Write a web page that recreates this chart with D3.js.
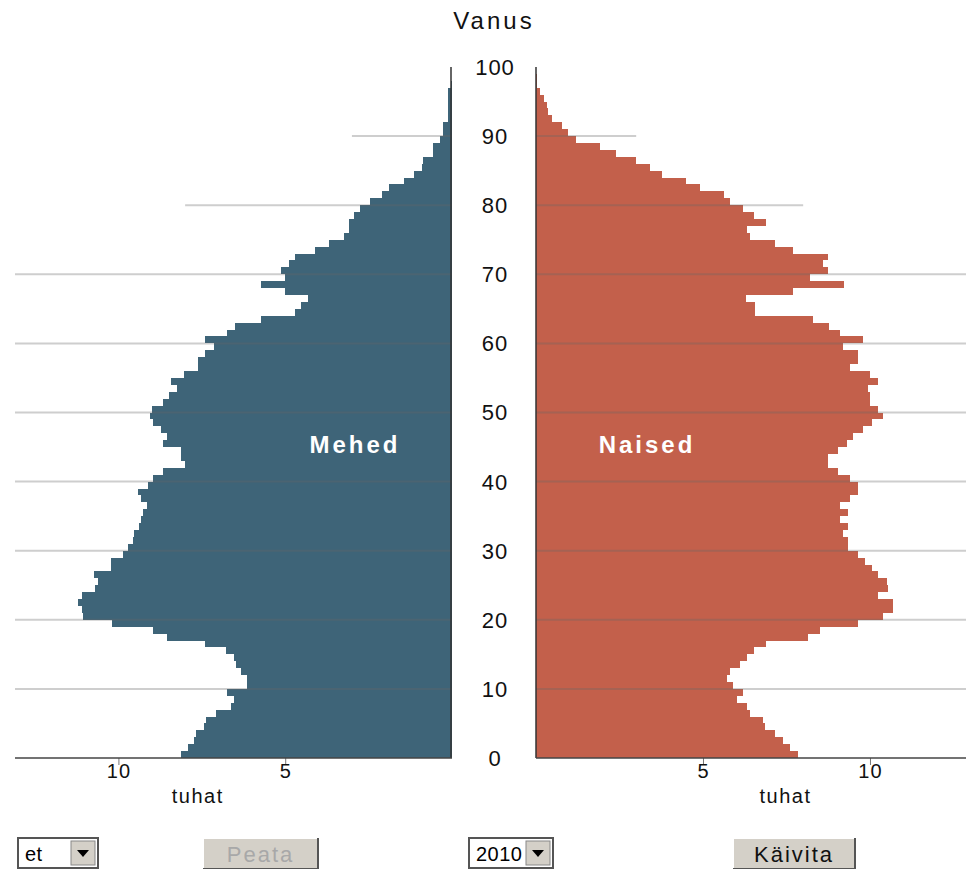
<!DOCTYPE html>
<html lang="et">
<head>
<meta charset="UTF-8">
<title>Rahvastikupüramiid 2010</title>
<script src="https://d3js.org/d3.v7.min.js"></script>
<style>
  body { margin: 0; background: #fff; }
  svg text { font-family: "Liberation Sans", Arial, sans-serif; }
</style>
</head>
<body>
<svg width="966" height="869"></svg>
<script>
// population by single year of age 0..100, thousands
const ages = d3.range(0, 101);
const men = [8.12, 7.92, 7.72, 7.67, 7.42, 7.37, 7.07, 6.63, 6.53, 6.73,
  6.16, 6.16, 6.33, 6.48, 6.53, 6.76, 7.40, 8.54, 8.96, 10.2,
  11.05, 11.1, 11.2, 11.1, 10.7, 10.6, 10.74, 10.21, 10.21, 9.86,
  9.71, 9.56, 9.53, 9.39, 9.31, 9.26, 9.13, 9.31, 9.41, 9.1,
  8.96, 8.67, 8.0, 8.12, 8.12, 8.67, 8.54, 8.72, 8.95, 9.05,
  8.99, 8.67, 8.47, 8.24, 8.42, 8.02, 7.62, 7.62, 7.39, 7.12,
  7.39, 6.75, 6.50, 5.73, 4.71, 4.54, 4.31, 5.0, 5.73, 5.0,
  5.13, 4.89, 4.71, 4.11, 3.69, 3.24, 3.10, 3.10, 2.95, 2.75,
  2.45, 2.10, 1.90, 1.45, 1.13, 0.90, 0.86, 0.56, 0.56, 0.35,
  0.26, 0.26, 0.11, 0.11, 0.11, 0.11, 0.11, 0.02, 0.01, 0.01, 0];
const women = [7.84, 7.60, 7.40, 7.16, 6.86, 6.81, 6.41, 6.31, 6.01, 6.21,
  5.91, 5.71, 5.81, 6.11, 6.31, 6.54, 6.88, 8.15, 8.50, 9.65,
  10.4, 10.7, 10.7, 10.25, 10.55, 10.5, 10.25, 10.05, 9.85, 9.65,
  9.35, 9.35, 9.20, 9.33, 9.10, 9.33, 9.10, 9.40, 9.65, 9.65,
  9.40, 9.05, 8.75, 8.75, 9.05, 9.30, 9.50, 9.80, 10.05, 10.4,
  10.23, 10.0, 10.0, 9.95, 10.23, 10.0, 9.40, 9.65, 9.65, 9.20,
  9.80, 9.10, 8.78, 8.30, 6.56, 6.56, 6.28, 7.71, 9.22, 8.20,
  8.73, 8.60, 8.73, 7.71, 7.16, 6.41, 6.31, 6.88, 6.54, 6.21,
  5.81, 5.63, 4.91, 4.49, 3.76, 3.41, 2.99, 2.39, 1.92, 1.19,
  0.95, 0.77, 0.47, 0.37, 0.32, 0.25, 0.12, 0.04, 0.02, 0.01, 0];

const ageTicks = [0, 10, 20, 30, 40, 50, 60, 70, 80, 90, 100];
const gridAges = [10, 20, 30, 40, 50, 60, 70, 80, 90];
const gridLen = [13.1, 13.1, 13.1, 13.1, 13.1, 13.1, 13.1, 8, 3]; // thousands
const valueTicks = [5, 10];

const svg = d3.select("svg");

// scales
const y = d3.scaleLinear().domain([0, 100]).range([758, 67]);
const xM = d3.scaleLinear().domain([0, 13.1]).range([452, 15]);
const xF = d3.scaleLinear().domain([0, 13.1]).range([536, 973.5]);

const maleColor = "#3e6478";
const femaleColor = "#c3604b";

// bars
svg.append("g").selectAll("rect")
  .data(ages)
  .join("rect")
  .attr("x", a => xM(men[a]))
  .attr("y", a => y(a + 1))
  .attr("width", a => xM(0) - xM(men[a]))
  .attr("height", a => y(a) - y(a + 1))
  .attr("fill", maleColor)
  .attr("shape-rendering", "crispEdges");

svg.append("g").selectAll("rect")
  .data(ages)
  .join("rect")
  .attr("x", xF(0))
  .attr("y", a => y(a + 1))
  .attr("width", a => xF(women[a]) - xF(0))
  .attr("height", a => y(a) - y(a + 1))
  .attr("fill", femaleColor)
  .attr("shape-rendering", "crispEdges");

// gridlines, drawn over the bars
const grid = svg.append("g")
  .attr("stroke", "#666")
  .attr("stroke-opacity", 0.32)
  .attr("stroke-width", 2);
gridAges.forEach((a, i) => {
  grid.append("line")
    .attr("x1", xM(gridLen[i])).attr("x2", xM(0))
    .attr("y1", y(a)).attr("y2", y(a));
  grid.append("line")
    .attr("x1", xF(0)).attr("x2", xF(gridLen[i]))
    .attr("y1", y(a)).attr("y2", y(a));
});

// vertical axes
svg.append("line").attr("x1", xM(0) - 1).attr("x2", xM(0) - 1)
  .attr("y1", y(100)).attr("y2", y(0))
  .attr("stroke", "#333").attr("stroke-width", 1.5);
svg.append("line").attr("x1", xF(0)).attr("x2", xF(0))
  .attr("y1", y(100)).attr("y2", y(0))
  .attr("stroke", "#333").attr("stroke-width", 1.5);

// bottom axes
const axM = svg.append("g").attr("transform", `translate(0,${y(0)})`)
  .call(d3.axisBottom(xM).tickValues(valueTicks).tickSize(7).tickFormat(d3.format("d")));
const axF = svg.append("g").attr("transform", `translate(0,${y(0)})`)
  .call(d3.axisBottom(xF).tickValues(valueTicks).tickSize(7).tickFormat(d3.format("d")));
[axM, axF].forEach(ax => {
  ax.select(".domain").remove();
  ax.selectAll(".tick line").attr("stroke", "#777");
  ax.selectAll(".tick text")
    .attr("font-size", 20).attr("fill", "#111").attr("dy", "0.5em")
    .attr("letter-spacing", 1)
    .attr("font-family", "Liberation Sans, Arial, sans-serif");
});
svg.append("line").attr("x1", xM(13.1)).attr("x2", xM(0))
  .attr("y1", y(0)).attr("y2", y(0)).attr("stroke", "#444").attr("stroke-width", 1.5);
svg.append("line").attr("x1", xF(0)).attr("x2", 966)
  .attr("y1", y(0)).attr("y2", y(0)).attr("stroke", "#444").attr("stroke-width", 1.5);

svg.append("text").attr("x", (xM(5) + xM(10)) / 2 - 4).attr("y", 803)
  .attr("text-anchor", "middle").attr("font-size", 20).attr("letter-spacing", 1.5)
  .attr("fill", "#111").text("tuhat");
svg.append("text").attr("x", (xF(5) + xF(10)) / 2 - 1).attr("y", 803)
  .attr("text-anchor", "middle").attr("font-size", 20).attr("letter-spacing", 1.5)
  .attr("fill", "#111").text("tuhat");

// age labels
svg.append("g").selectAll("text")
  .data(ageTicks)
  .join("text")
  .attr("x", 495)
  .attr("y", a => y(a))
  .attr("dy", "0.36em")
  .attr("text-anchor", "middle")
  .attr("font-size", 22)
  .attr("letter-spacing", 1)
  .attr("fill", "#111")
  .text(a => a);

svg.append("text").attr("x", 494).attr("y", 29)
  .attr("text-anchor", "middle").attr("font-size", 24).attr("letter-spacing", 3)
  .attr("fill", "#111").text("Vanus");

// series labels
svg.append("text").attr("x", 355).attr("y", 453)
  .attr("text-anchor", "middle").attr("font-size", 24).attr("font-weight", "bold")
  .attr("letter-spacing", 3).attr("fill", "#fff").text("Mehed");
svg.append("text").attr("x", 647).attr("y", 453)
  .attr("text-anchor", "middle").attr("font-size", 24).attr("font-weight", "bold")
  .attr("letter-spacing", 3).attr("fill", "#fff").text("Naised");

// controls
function selectBox(x, w, label) {
  const g = svg.append("g").attr("transform", `translate(${x},838)`);
  g.append("rect").attr("width", w).attr("height", 30).attr("fill", "#fff")
    .attr("stroke", "#555").attr("stroke-width", 2);
  g.append("text").attr("x", 7).attr("y", 23).attr("font-size", 20)
    .attr("letter-spacing", 0.5).attr("fill", "#000").text(label);
  g.append("rect").attr("x", w - 27).attr("y", 3).attr("width", 24).attr("height", 24)
    .attr("fill", "#d4d0c8").attr("stroke", "#888");
  g.append("path").attr("d", `M${w - 21},12 L${w - 9},12 L${w - 15},19 Z`).attr("fill", "#000");
}
function button(x, w, label, color) {
  const g = svg.append("g").attr("transform", `translate(${x},838)`);
  g.append("rect").attr("width", w).attr("height", 31).attr("fill", "#d4d0c8");
  g.append("path").attr("d", `M0,31 L0,0 L${w},0`).attr("fill", "none").attr("stroke", "#fff").attr("stroke-width", 2);
  g.append("path").attr("d", `M0,31 L${w},31 L${w},0`).attr("fill", "none").attr("stroke", "#555").attr("stroke-width", 2);
  g.append("text").attr("x", w / 2).attr("y", 24).attr("text-anchor", "middle")
    .attr("font-size", 22).attr("letter-spacing", 2).attr("fill", color).text(label);
}
selectBox(18, 80, "et");
button(203, 115, "Peata", "#a8a8a8");
selectBox(469, 84, "2010");
button(733, 122, "Käivita", "#111");
</script>
</body>
</html>
